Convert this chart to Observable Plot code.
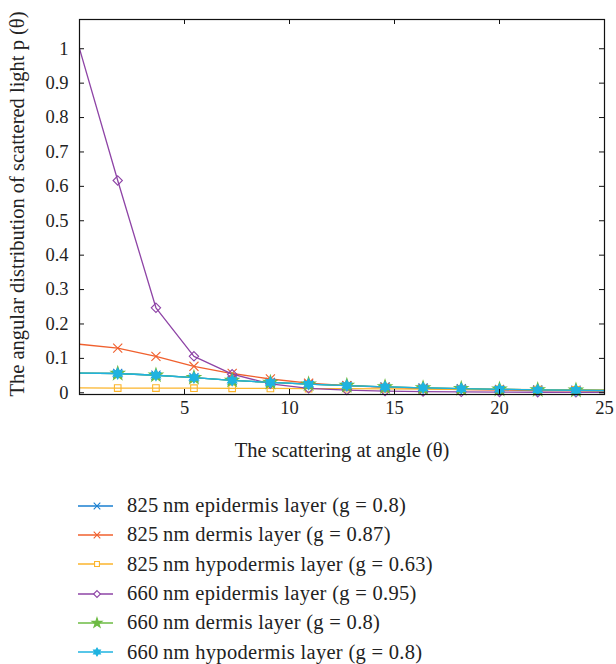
<!DOCTYPE html>
<html><head><meta charset="utf-8">
<script src="https://cdn.jsdelivr.net/npm/d3@7"></script>
<script src="https://cdn.jsdelivr.net/npm/@observablehq/plot@0.6"></script>
<style>
body{margin:0;background:#fff;font-family:"Liberation Serif",serif;color:#222;}
#legend{position:absolute;left:78px;top:491px;}
.row{display:flex;align-items:center;height:29.3px;font-size:20.5px;letter-spacing:0.3px;white-space:nowrap;}
.row svg{margin-right:13px;}
</style></head><body>
<div id="chart"></div><div id="legend"></div>
<script>
// scattering angle (degrees)
const angles = [0, 1.82, 3.64, 5.45, 7.27, 9.09, 10.91, 12.73, 14.55, 16.36, 18.18, 20.0, 21.82, 23.64, 25.45];
// p(theta) per series
const epi825  = [0.057, 0.056, 0.051, 0.044, 0.036, 0.030, 0.025, 0.021, 0.017, 0.014, 0.012, 0.010, 0.0085, 0.0073, 0.0063];
const der825  = [0.141, 0.130, 0.106, 0.077, 0.056, 0.040, 0.028, 0.021, 0.016, 0.012, 0.0095, 0.0078, 0.0065, 0.0055, 0.0047];
const hypo825 = [0.014, 0.0138, 0.0136, 0.0133, 0.013, 0.0126, 0.0122, 0.0118, 0.0113, 0.0108, 0.0103, 0.0098, 0.0093, 0.0088, 0.0083];
const epi660  = [1.0, 0.617, 0.247, 0.106, 0.054, 0.026, 0.013, 0.008, 0.005, 0.0035, 0.0025, 0.002, 0.0015, 0.0012, 0.001];
const der660  = [0.057, 0.056, 0.051, 0.044, 0.036, 0.030, 0.025, 0.021, 0.017, 0.014, 0.012, 0.010, 0.0085, 0.0073, 0.0063];
const hypo660 = [0.057, 0.056, 0.051, 0.044, 0.036, 0.030, 0.025, 0.021, 0.017, 0.014, 0.012, 0.010, 0.0085, 0.0073, 0.0063];

const seriesNames = [
  "825\u2009nm epidermis layer (g = 0.8)",
  "825\u2009nm dermis layer (g = 0.87)",
  "825\u2009nm hypodermis layer (g = 0.63)",
  "660\u2009nm epidermis layer (g = 0.95)",
  "660\u2009nm dermis layer (g = 0.8)",
  "660\u2009nm hypodermis layer (g = 0.8)"
];
const seriesValues = [epi825, der825, hypo825, epi660, der660, hypo660];
const seriesColors = ["#1a7fd0", "#f0602e", "#fbb52c", "#8e44a6", "#6dbb43", "#1fb3e0"];
const xTicks = [5, 10, 15, 20, 25];
const yTicks = [0, 0.1, 0.2, 0.3, 0.4, 0.5, 0.6, 0.7, 0.8, 0.9, 1];
const yTickLabels = ["0", "0.1", "0.2", "0.3", "0.4", "0.5", "0.6", "0.7", "0.8", "0.9", "1"];
const xTitle = "The scattering at angle (\u03b8)";
const yTitle = "The angular distribution of scattered light p (\u03b8)";

const hexagram = {
  draw(context, size) {
    const r = Math.sqrt(size) * 0.72;
    for (const off of [-90, 90]) {
      for (let i = 0; i < 3; i++) {
        const a = (off + i * 120) * Math.PI / 180;
        const px = r * Math.cos(a), py = r * Math.sin(a);
        if (i === 0) context.moveTo(px, py); else context.lineTo(px, py);
      }
      context.closePath();
    }
  }
};
const seriesSymbols = [d3.symbolTimes, d3.symbolTimes, d3.symbolSquare2, d3.symbolDiamond2, d3.symbolStar, hexagram];
const seriesFilled = [false, false, false, false, true, true];

const W = 616, H = 475, mL = 79, mR = 12, mT = 19, mB = 81;
const pw = W - mL - mR, ph = H - mT - mB;

const marks = [];
seriesNames.forEach((name, i) => {
  const rows = angles.map((a, j) => ({angle: a, value: seriesValues[i][j]}));
  marks.push(Plot.line(rows, {x: "angle", y: "value", stroke: seriesColors[i], strokeWidth: 1.3, clip: true}));
  marks.push(Plot.dot(rows.filter(d => d.angle > 0 && d.angle <= 25), {
    x: "angle", y: "value", symbol: seriesSymbols[i], r: 4.2,
    stroke: seriesColors[i], strokeWidth: 1.1,
    fill: seriesFilled[i] ? seriesColors[i] : "none"
  }));
});

const chart = Plot.plot({
  width: W, height: H, marginLeft: mL, marginRight: mR, marginTop: mT, marginBottom: mB,
  style: {fontFamily: "Liberation Serif, serif", fontSize: "16px", color: "#222", background: "#fff"},
  x: {domain: [0, 25]},
  y: {domain: [-0.005, 1.085]},
  marks: [
    ...marks,
    Plot.frame({stroke: "#111", strokeWidth: 1.2}),
    Plot.tickX(xTicks, {x: d => d, insetTop: ph - 5, stroke: "#111"}),
    Plot.tickX(xTicks, {x: d => d, insetBottom: ph - 5, stroke: "#111"}),
    Plot.tickY(yTicks, {y: d => d, insetRight: pw - 5, stroke: "#111"}),
    Plot.tickY(yTicks, {y: d => d, insetLeft: pw - 5, stroke: "#111"}),
    Plot.axisX(xTicks, {tickSize: 0, tickPadding: 6, label: null, fontSize: 18.5}),
    Plot.axisY(yTicks, {tickSize: 0, tickPadding: 11, label: null, fontSize: 18.5, tickFormat: (d, i) => yTickLabels[i]}),
    Plot.text([xTitle], {frameAnchor: "bottom", dy: 62, fontSize: 20.5, fill: "#222"}),
    Plot.text([yTitle], {frameAnchor: "left", textAnchor: "middle", rotate: -90, dx: -62, dy: -3, fontSize: 20.5, fill: "#222"})
  ]
});
document.getElementById("chart").append(chart);

const legend = document.getElementById("legend");
seriesNames.forEach((name, i) => {
  const row = document.createElement("div");
  row.className = "row";
  const svg = d3.create("svg").attr("width", 36).attr("height", 14);
  svg.append("line").attr("x1", 0).attr("x2", 35).attr("y1", 7).attr("y2", 7)
    .attr("stroke", seriesColors[i]).attr("stroke-width", 1.3);
  svg.append("path").attr("transform", "translate(19,7)")
    .attr("d", d3.symbol(seriesSymbols[i], 30)())
    .attr("stroke", seriesColors[i]).attr("stroke-width", 1.1)
    .attr("fill", seriesFilled[i] ? seriesColors[i] : "#fff");
  row.append(svg.node());
  const span = document.createElement("span");
  span.textContent = name;
  row.append(span);
  legend.append(row);
});
</script>
</body></html>
